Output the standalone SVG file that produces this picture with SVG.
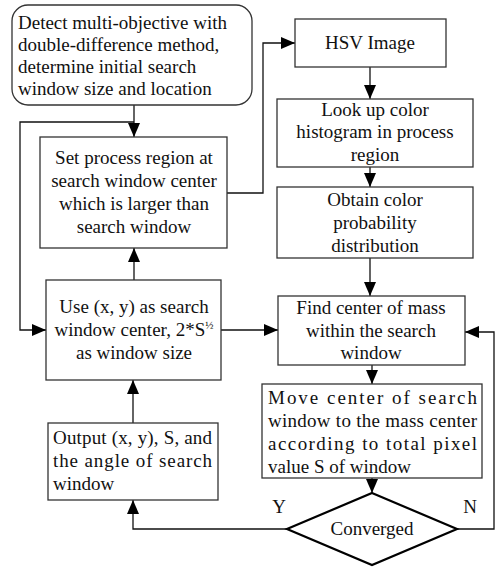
<svg xmlns="http://www.w3.org/2000/svg" width="496" height="568" viewBox="0 0 496 568">
<defs>
<style>
.box{fill:#fff;stroke:#333;stroke-width:1.3}
.ln{fill:none;stroke:#111;stroke-width:1.3}
text{font-family:"Liberation Serif","Times New Roman",serif;font-size:19px;fill:#111}
.c{text-anchor:middle}
</style>
<marker id="ah" markerUnits="userSpaceOnUse" markerWidth="14" markerHeight="12" viewBox="0 0 14 12" refX="14" refY="6" orient="auto">
<path d="M0,0 L14,6 L0,12 z" fill="#000"/>
</marker>
</defs>
<g id="connectors">
<path class="ln" d="M134,105 V137" marker-end="url(#ah)"/>
<path class="ln" d="M134,122 H20 V330 H46" marker-end="url(#ah)"/>
<path class="ln" d="M134,280 V248" marker-end="url(#ah)"/>
<path class="ln" d="M227,193 H263 V43 H295" marker-end="url(#ah)"/>
<path class="ln" d="M370,67 V99" marker-end="url(#ah)"/>
<path class="ln" d="M370,167 V187" marker-end="url(#ah)"/>
<path class="ln" d="M370,258 V296" marker-end="url(#ah)"/>
<path class="ln" d="M221,330 H278" marker-end="url(#ah)"/>
<path class="ln" d="M372,365 V384" marker-end="url(#ah)"/>
<path class="ln" d="M372,478 V493" marker-end="url(#ah)"/>
<path class="ln" d="M287,529 H133 V500" marker-end="url(#ah)"/>
<path class="ln" d="M457,529 H494 V332 H465" marker-end="url(#ah)"/>
<path class="ln" d="M133,423 V380" marker-end="url(#ah)"/>
<text x="279" y="513" class="c">Y</text>
<text x="470" y="513" class="c">N</text>
</g>
<g id="detect">
<rect class="box" x="12" y="5" width="240" height="100" rx="16"/>
<text x="18" y="29">Detect multi-objective with</text>
<text x="18" y="51">double-difference method,</text>
<text x="18" y="73">determine initial search</text>
<text x="18" y="95">window size and location</text>
</g>
<g id="setregion">
<rect class="box" x="40" y="137" width="187" height="111"/>
<text x="134" y="164" class="c">Set process region at</text>
<text x="134" y="187" class="c">search window center</text>
<text x="134" y="210" class="c">which is larger than</text>
<text x="134" y="233" class="c">search window</text>
</g>
<g id="usexy">
<rect class="box" x="46" y="280" width="175" height="100"/>
<text x="134" y="313" class="c">Use (x, y) as search</text>
<text x="134" y="336" class="c"><tspan>window center, 2*S</tspan><tspan font-size="11" dy="-7">½</tspan></text>
<text x="134" y="359" class="c">as window size</text>
</g>
<g id="output">
<rect class="box" x="48" y="423" width="170" height="77"/>
<text x="53" y="444" textLength="159" lengthAdjust="spacing">Output (x, y), S, and</text>
<text x="53" y="467" textLength="159" lengthAdjust="spacing">the angle of search</text>
<text x="53" y="490">window</text>
</g>
<g id="hsv">
<rect class="box" x="295" y="19" width="151" height="48"/>
<text x="370" y="49" class="c">HSV Image</text>
</g>
<g id="lookup">
<rect class="box" x="277" y="99" width="196" height="68"/>
<text x="375" y="116" class="c">Look up color</text>
<text x="375" y="138" class="c">histogram in process</text>
<text x="375" y="161" class="c">region</text>
</g>
<g id="obtain">
<rect class="box" x="277" y="187" width="196" height="71"/>
<text x="375" y="206" class="c">Obtain color</text>
<text x="375" y="229" class="c">probability</text>
<text x="375" y="252" class="c">distribution</text>
</g>
<g id="findcenter">
<rect class="box" x="278" y="296" width="187" height="69"/>
<text x="371" y="314" class="c">Find center of mass</text>
<text x="371" y="337" class="c">within the search</text>
<text x="371" y="359" class="c">window</text>
</g>
<g id="move">
<rect class="box" x="262" y="384" width="220" height="94"/>
<text x="268" y="404" textLength="209" lengthAdjust="spacing">Move center of search</text>
<text x="268" y="427" textLength="209" lengthAdjust="spacing">window to the mass center</text>
<text x="268" y="450" textLength="209" lengthAdjust="spacing">according to total pixel</text>
<text x="268" y="473">value S of window</text>
</g>
<g id="converged">
<path class="box" d="M372,493 L457,529 L372,565 L287,529 z" style="stroke-width:2.2;stroke:#000"/>
<text x="372" y="535" class="c">Converged</text>
</g>
</svg>
